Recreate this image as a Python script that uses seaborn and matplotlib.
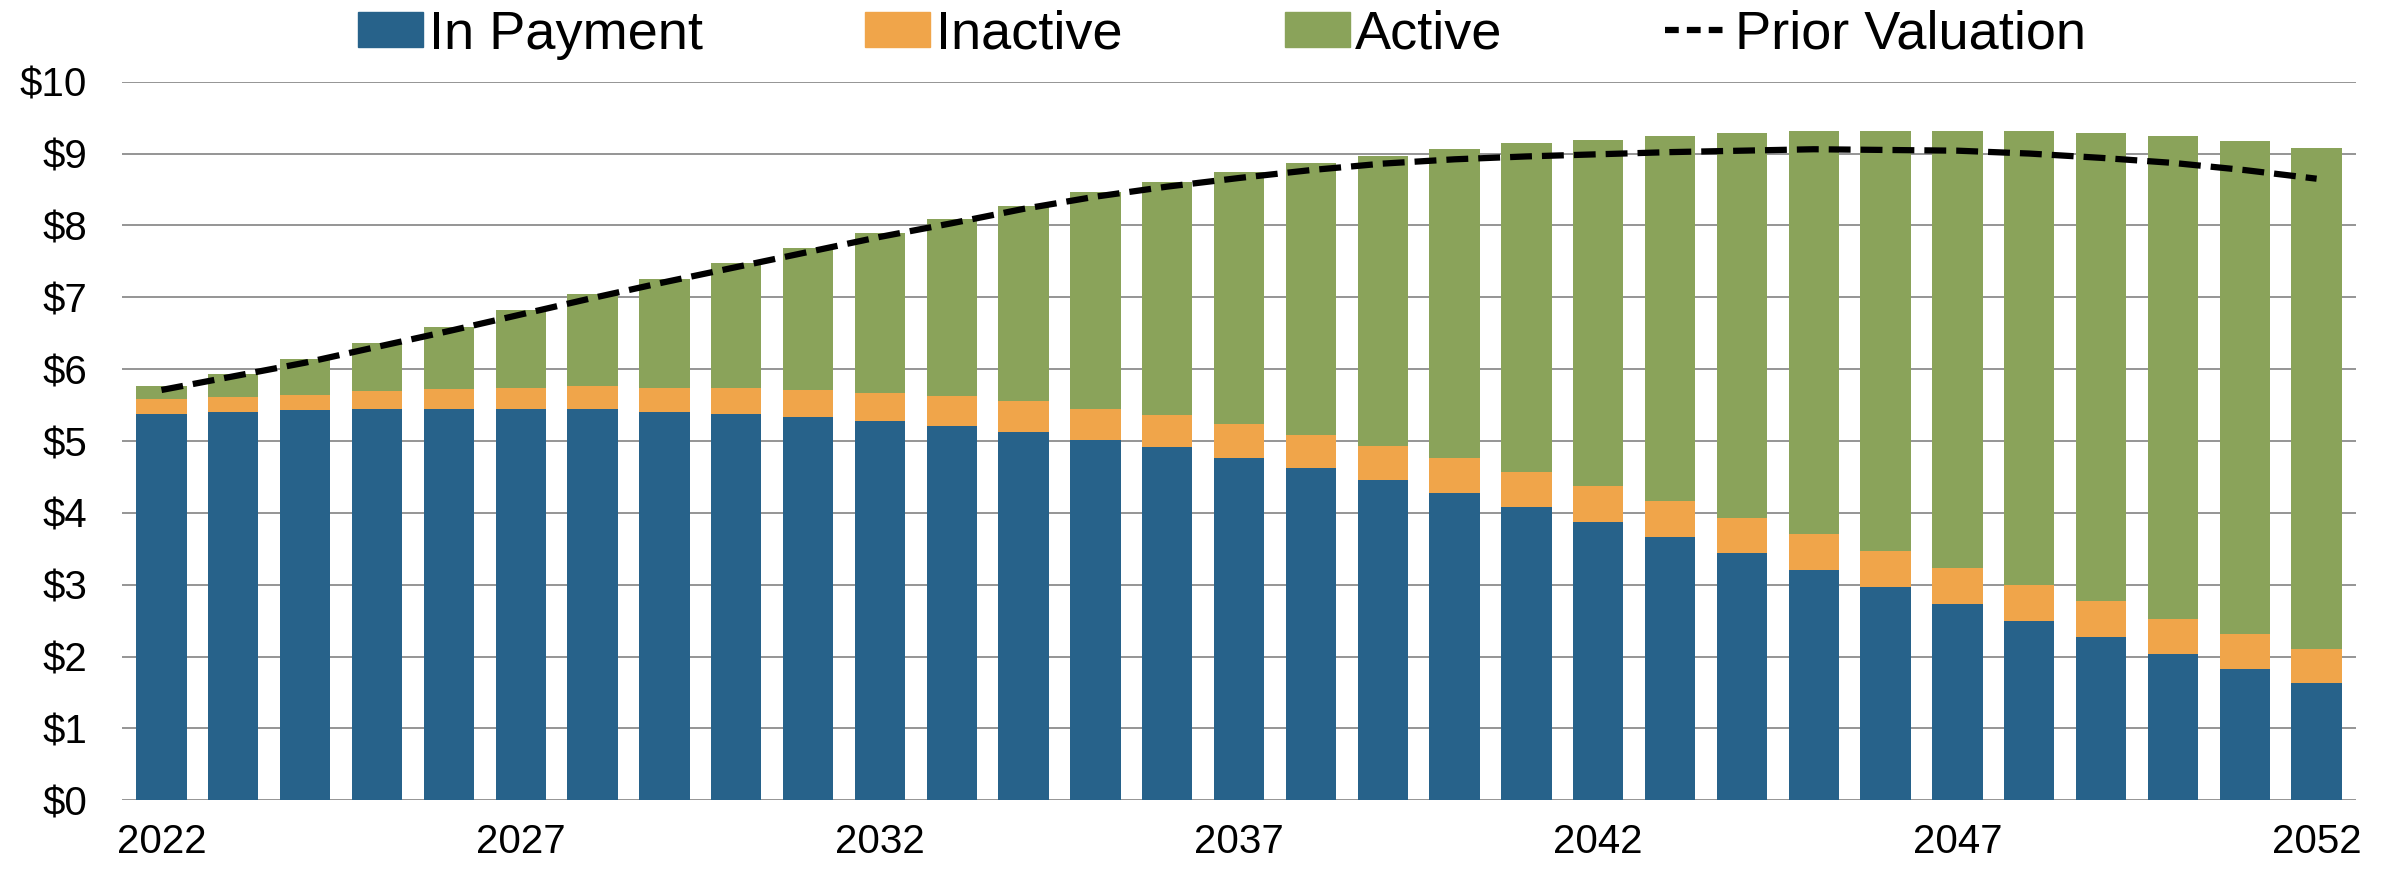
import numpy as np
import pandas as pd
import seaborn as sns
import matplotlib.pyplot as plt
from matplotlib.patches import Patch
from matplotlib.lines import Line2D

# 年份與各類別數值（單位：十億美元）
years = list(range(2022, 2053))

in_payment = [5.37, 5.40, 5.43, 5.44, 5.45, 5.45, 5.44, 5.41, 5.38, 5.34,
              5.28, 5.21, 5.12, 5.02, 4.91, 4.77, 4.62, 4.46, 4.27, 4.08,
              3.87, 3.66, 3.44, 3.21, 2.97, 2.73, 2.49, 2.27, 2.04, 1.83, 1.63]

inactive = [0.22, 0.21, 0.21, 0.25, 0.27, 0.29, 0.32, 0.33, 0.36, 0.37,
            0.39, 0.41, 0.43, 0.43, 0.45, 0.46, 0.47, 0.47, 0.49, 0.49,
            0.50, 0.50, 0.49, 0.49, 0.50, 0.50, 0.51, 0.50, 0.49, 0.48, 0.47]

active = [0.17, 0.32, 0.50, 0.68, 0.87, 1.08, 1.28, 1.52, 1.74, 1.98,
          2.23, 2.47, 2.72, 3.01, 3.25, 3.52, 3.78, 4.04, 4.31, 4.57,
          4.82, 5.08, 5.35, 5.61, 5.85, 6.09, 6.31, 6.51, 6.71, 6.87, 6.98]

prior_valuation = [5.71, 5.90, 6.09, 6.31, 6.53, 6.76, 6.99, 7.21, 7.42, 7.63,
                   7.84, 8.03, 8.23, 8.40, 8.54, 8.66, 8.77, 8.86, 8.92, 8.96,
                   8.99, 9.02, 9.04, 9.06, 9.05, 9.04, 9.00, 8.94, 8.87, 8.77, 8.65]

tick_years = [2022, 2027, 2032, 2037, 2042, 2047, 2052]

c_pay = "#27628a"
c_inact = "#f0a54a"
c_act = "#8aa35a"

df = pd.DataFrame({"Year": years, "In Payment": in_payment,
                   "Inactive": inactive, "Active": active,
                   "Prior Valuation": prior_valuation})
df["bottom_inact"] = df["In Payment"]
df["bottom_act"] = df["In Payment"] + df["Inactive"]

sns.set_style("white")
plt.rcParams['font.family'] = ['Liberation Sans', 'DejaVu Sans']
plt.rcParams['text.color'] = 'black'
plt.rcParams['xtick.color'] = 'black'
plt.rcParams['ytick.color'] = 'black'

fig = plt.figure(figsize=(23.92, 8.69), dpi=100)
ax = fig.add_axes([0.051, 0.079, 0.934, 0.827])

# 橫向格線
for v in range(0, 11):
    ax.axhline(v, color="#8c8c8c", lw=1.3, zorder=0)

# 堆疊長條圖
sns.barplot(data=df, x="Year", y="In Payment", native_scale=True, width=0.7,
            color=c_pay, saturation=1, linewidth=0, ax=ax, zorder=2)
sns.barplot(data=df, x="Year", y="Inactive", native_scale=True, width=0.7,
            color=c_inact, saturation=1, linewidth=0,
            bottom=df["bottom_inact"], ax=ax, zorder=2)
sns.barplot(data=df, x="Year", y="Active", native_scale=True, width=0.7,
            color=c_act, saturation=1, linewidth=0,
            bottom=df["bottom_act"], ax=ax, zorder=2)

# 前次評估虛線
sns.lineplot(data=df, x="Year", y="Prior Valuation", color="black",
             lw=4.5, ax=ax, zorder=3)
ax.lines[-1].set_dashes([3.5, 1.6])

ax.set_ylim(0, 10)
ax.set_xlim(2021.45, 2052.55)
ax.set_yticks(range(0, 11))
ax.set_yticklabels([f"${v}" for v in range(0, 11)], fontsize=29)
ax.set_xticks(tick_years)
ax.set_xticklabels([str(y) for y in tick_years], fontsize=29)
ax.tick_params(axis="y", length=0, pad=25, labelcolor="black")
ax.tick_params(axis="x", length=0, pad=16, labelcolor="black")
ax.set_xlabel("")
ax.set_ylabel("")
for s in ax.spines.values():
    s.set_visible(False)

handles = [Patch(color=c_pay), Patch(color=c_inact), Patch(color=c_act),
           Line2D([], [], color="black", lw=4.5, dashes=[2.2, 1.3])]
labels = ["In Payment", "Inactive", "Active", "Prior Valuation"]
fig.legend(handles, labels, loc="upper center", bbox_to_anchor=(0.511, 1.045),
           ncol=4, frameon=False, fontsize=39, handlelength=1.2,
           handleheight=0.6, handletextpad=0.1, columnspacing=3.0,
           labelcolor="black")

fig.savefig("out.png", dpi=100)
